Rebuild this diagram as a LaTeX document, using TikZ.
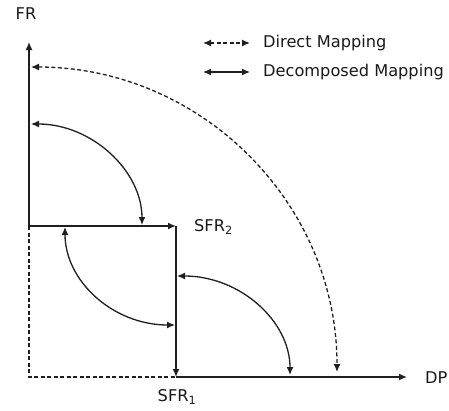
\documentclass[tikz,border=0pt]{standalone}
\usepackage{fontspec}
\setmainfont{DejaVu Sans}
\usetikzlibrary{arrows.meta}
\tikzstyle{txt}=[inner sep=0pt,font=\fontsize{16.2}{19}\selectfont,text=black!90]
\tikzstyle{axisline}=[draw,line width=1.5pt,black!88,-{Latex[length=8pt,width=7pt]}]
\tikzstyle{guide}=[draw,line width=1.3pt,black!88,dash pattern=on 4pt off 2.5pt]
\tikzstyle{mapping}=[draw,line width=1.3pt,black!88,{Latex[length=8pt,width=7pt]}-{Latex[length=8pt,width=7pt]}]
\tikzstyle{direct}=[mapping,dash pattern=on 4pt off 2.5pt]

\begin{document}
\begin{tikzpicture}[x=1pt,y=-1pt]
  \useasboundingbox (0,0) rectangle (449,410);
  % axis
  \coordinate (O) at (29,377);
  \coordinate (FRend) at (29,42);
  \coordinate (DPend) at (407,377);
  \coordinate (S2start) at (29,226);
  \coordinate (S2end) at (176,226);
  \coordinate (S1end) at (176,377);
  \draw[axisline] (S2start) -- (FRend);
  \draw[axisline] (S1end) -- (DPend);
  \draw[guide] (S2start) -- (O) -- (S1end);
  \draw[axisline] (S2start) -- (S2end);
  \draw[axisline] (S2end) -- (S1end);
  \node[txt] (FR) at (26,14) {FR};
  \node[txt,anchor=west] (DP) at (425,378) {DP};
  \node[txt,anchor=west] (SFR2) at (194,227) {SFR\textsubscript{2}};
  \node[txt] (SFR1) at (177,397) {SFR\textsubscript{1}};
  % mappings
  \coordinate (dA) at (31,67);
  \coordinate (dB) at (337,372);
  \draw[direct] (dA) .. controls (200,67) and (337,202) .. (dB);
  \coordinate (mA) at (31,124);
  \coordinate (mB) at (142,225);
  \draw[mapping] (mA) .. controls (92,124) and (142,171) .. (mB);
  \coordinate (mC) at (65,227);
  \coordinate (mD) at (175,325);
  \draw[mapping] (mC) .. controls (65,281) and (113,325) .. (mD);
  \coordinate (mE) at (177,276);
  \coordinate (mF) at (290,375);
  \draw[mapping] (mE) .. controls (240,276) and (290,321) .. (mF);
  % legend
  \coordinate (ldA) at (203,43);
  \coordinate (ldB) at (250,43);
  \coordinate (lmA) at (203,72);
  \coordinate (lmB) at (250,72);
  \draw[direct] (ldA) -- (ldB);
  \draw[mapping] (lmA) -- (lmB);
  \node[txt,anchor=west] (direct) at (263,43) {Direct Mapping};
  \node[txt,anchor=west] (decomposed) at (263,72) {Decomposed Mapping};
\end{tikzpicture}
\end{document}
